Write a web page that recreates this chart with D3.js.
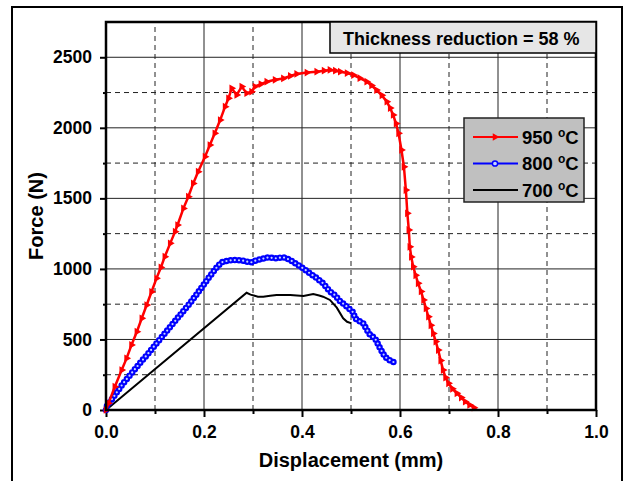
<!DOCTYPE html>
<html>
<head>
<meta charset="utf-8">
<script src="https://cdn.jsdelivr.net/npm/d3@7"></script>
<style>
  body { margin: 0; background: #fff; }
  svg { display: block; font-family: "Liberation Sans", Arial, sans-serif; }
</style>
</head>
<body>
<svg id="chart" width="625" height="481"></svg>
<script>
// Force-displacement curves (mm, N)
const red950 = [[0,0],[0.005,47],[0.018,165],[0.032,283],[0.042,366],[0.052,461],[0.063,555],[0.073,650],[0.083,744],[0.093,838],[0.103,933],[0.112,1010],[0.120,1087],[0.131,1181],[0.141,1264],[0.146,1311],[0.158,1429],[0.168,1512],[0.178,1606],[0.188,1689],[0.202,1795],[0.212,1878],[0.222,1961],[0.233,2055],[0.243,2150],[0.250,2209],[0.2565,2280],[0.2667,2233],[0.277,2292],[0.287,2245],[0.297,2256],[0.304,2292],[0.316,2310],[0.328,2327],[0.345,2340],[0.362,2350],[0.376,2368],[0.389,2382],[0.41,2392],[0.43,2398],[0.445,2405],[0.457,2410],[0.468,2405],[0.478,2398],[0.492,2388],[0.505,2374],[0.518,2352],[0.532,2327],[0.542,2300],[0.552,2268],[0.563,2230],[0.573,2185],[0.580,2140],[0.586,2091],[0.592,2030],[0.597,1961],[0.603,1843],[0.608,1724],[0.612,1559],[0.615,1394],[0.618,1276],[0.620,1157],[0.623,1085],[0.627,1016],[0.632,955],[0.637,898],[0.643,840],[0.648,780],[0.653,720],[0.658,661],[0.663,600],[0.668,543],[0.673,485],[0.678,425],[0.683,350],[0.688,283],[0.693,230],[0.699,189],[0.707,150],[0.716,118],[0.725,88],[0.733,59],[0.742,36],[0.751,16]];

const blue800 = [[0,0],[0.001,24],[0.018,105],[0.035,189],[0.052,260],[0.069,331],[0.086,400],[0.103,472],[0.120,543],[0.137,614],[0.154,685],[0.171,756],[0.185,820],[0.199,886],[0.209,935],[0.219,980],[0.228,1020],[0.236,1047],[0.248,1058],[0.260,1063],[0.270,1062],[0.280,1058],[0.290,1050],[0.297,1047],[0.308,1063],[0.320,1072],[0.331,1082],[0.340,1078],[0.348,1075],[0.355,1080],[0.362,1082],[0.370,1072],[0.376,1063],[0.384,1045],[0.392,1028],[0.404,1000],[0.416,969],[0.430,935],[0.443,898],[0.457,840],[0.467,815],[0.478,770],[0.488,744],[0.497,715],[0.505,690],[0.508,650],[0.516,632],[0.525,614],[0.532,570],[0.539,532],[0.549,508],[0.559,440],[0.569,378],[0.580,350],[0.590,335]];

const black700 = [[0,0],[0.287,831],[0.295,818],[0.31,803],[0.321,803],[0.335,810],[0.348,815],[0.376,815],[0.403,808],[0.423,822],[0.435,812],[0.443,803],[0.457,780],[0.471,725],[0.484,650],[0.492,625],[0.501,614]];

const xMajor = [0, 0.2, 0.4, 0.6, 0.8, 1.0];
const xMinor = [0.1, 0.3, 0.5, 0.7, 0.9];
const yMajor = [0, 500, 1000, 1500, 2000, 2500];
const yMinor = [250, 750, 1250, 1750, 2250];
const legendLabels = ["950", "800", "700"];
const noteText = "Thickness reduction = 58 %";

const svg = d3.select("#chart");
const x = d3.scaleLinear().domain([0, 1]).range([106, 596]);
const y = d3.scaleLinear().domain([0, 2750]).range([410, 22]);

// outer frame
svg.append("rect")
    .attr("x", 12).attr("y", 7)
    .attr("width", 610).attr("height", 490)
    .attr("fill", "#fff").attr("stroke", "#000").attr("stroke-width", 2);

// grid
const grid = svg.append("g");
grid.selectAll(".gx").data(xMajor).join("line")
    .attr("x1", d => x(d)).attr("x2", d => x(d))
    .attr("y1", y(0)).attr("y2", y(2750))
    .attr("stroke", "#222").attr("stroke-width", 1);
grid.selectAll(".gy").data(yMajor).join("line")
    .attr("y1", d => y(d)).attr("y2", d => y(d))
    .attr("x1", x(0)).attr("x2", x(1))
    .attr("stroke", "#222").attr("stroke-width", 1);
grid.selectAll(".gxm").data(xMinor).join("line")
    .attr("x1", d => x(d)).attr("x2", d => x(d))
    .attr("y1", y(0)).attr("y2", y(2750))
    .attr("stroke", "#222").attr("stroke-width", 1).attr("stroke-dasharray", "5,4");
grid.selectAll(".gym").data(yMinor).join("line")
    .attr("y1", d => y(d)).attr("y2", d => y(d))
    .attr("x1", x(0)).attr("x2", x(1))
    .attr("stroke", "#222").attr("stroke-width", 1).attr("stroke-dasharray", "5,4");

// axes
const fmtX = d3.format(".1f");
const xAxis = svg.append("g").attr("transform", `translate(0,${y(0)})`)
    .call(d3.axisBottom(x).tickValues(xMajor).tickFormat(fmtX).tickSize(7).tickPadding(9));
const xAxisMinor = svg.append("g").attr("transform", `translate(0,${y(0)})`)
    .call(d3.axisBottom(x).tickValues(xMinor).tickFormat("").tickSize(4));
const yAxis = svg.append("g").attr("transform", `translate(${x(0)},0)`)
    .call(d3.axisLeft(y).tickValues(yMajor).tickFormat(d3.format("d")).tickSize(6).tickPadding(8));
const yAxisMinor = svg.append("g").attr("transform", `translate(${x(0)},0)`)
    .call(d3.axisLeft(y).tickValues(yMinor).tickFormat("").tickSize(3));

[xAxis, xAxisMinor, yAxis, yAxisMinor].forEach(a => {
    a.select(".domain").remove();
    a.selectAll("line").attr("stroke", "#000").attr("stroke-width", 2);
    a.selectAll("text")
        .attr("fill", "#000")
        .style("font-size", "17.5px")
        .style("font-weight", "bold")
        .style("font-family", "'Liberation Sans', Arial, sans-serif");
});

// curves
const line = d3.line().x(d => x(d[0])).y(d => y(d[1]));

svg.append("path").datum(black700)
    .attr("d", line).attr("fill", "none")
    .attr("stroke", "#000").attr("stroke-width", 2);

// blue: line with chain of open circles
svg.append("path").datum(blue800)
    .attr("d", line).attr("fill", "none")
    .attr("stroke", "#0000ff").attr("stroke-width", 6.5)
    .attr("stroke-linecap", "round").attr("stroke-dasharray", "0,4.2");
svg.append("path").datum(blue800)
    .attr("d", line).attr("fill", "none")
    .attr("stroke", "#0000ff").attr("stroke-width", 2);
svg.append("path").datum(blue800)
    .attr("d", line).attr("fill", "none")
    .attr("stroke", "#c9d6ff").attr("stroke-width", 2.2)
    .attr("stroke-linecap", "round").attr("stroke-dasharray", "0,4.2");

svg.append("path").datum(red950)
    .attr("d", line).attr("fill", "none")
    .attr("stroke", "#ff0000").attr("stroke-width", 2.5);

const tri = d3.symbol().type(d3.symbolTriangle).size(26);
svg.append("g").selectAll("path").data(red950).join("path")
    .attr("d", tri)
    .attr("transform", d => `translate(${x(d[0])},${y(d[1])}) rotate(90)`)
    .attr("fill", "#ff0000");

// plot frame
svg.append("rect")
    .attr("x", x(0)).attr("y", y(2750))
    .attr("width", x(1) - x(0)).attr("height", y(0) - y(2750))
    .attr("fill", "none").attr("stroke", "#000").attr("stroke-width", 2.5);

// axis titles
svg.append("text")
    .attr("x", (x(0) + x(1)) / 2).attr("y", 467)
    .attr("text-anchor", "middle")
    .style("font-size", "20px").style("font-weight", "bold")
    .text("Displacement (mm)");
svg.append("text")
    .attr("transform", `translate(43,${(y(0) + y(2750)) / 2}) rotate(-90)`)
    .attr("text-anchor", "middle")
    .style("font-size", "20px").style("font-weight", "bold")
    .text("Force (N)");

// note box
svg.append("rect")
    .attr("x", 330).attr("y", 22).attr("width", 266).attr("height", 31)
    .attr("fill", "#e6e6e6").attr("stroke", "#000").attr("stroke-width", 1.5);
svg.append("text")
    .attr("x", 343).attr("y", 45)
    .style("font-size", "18px").style("font-weight", "bold")
    .text(noteText);

// legend
const legend = svg.append("g").attr("transform", "translate(464,118)");
legend.append("rect")
    .attr("width", 120).attr("height", 84)
    .attr("fill", "#c0c0c0").attr("stroke", "#222").attr("stroke-width", 1.5);
const legendColors = ["#ff0000", "#0000ff", "#000"];
legendLabels.forEach((lab, i) => {
    const row = legend.append("g").attr("transform", `translate(0,${19 + i * 26.5})`);
    row.append("line")
        .attr("x1", 9).attr("x2", 54)
        .attr("stroke", legendColors[i]).attr("stroke-width", 2);
    if (i === 0) {
        row.append("path").attr("d", tri)
            .attr("transform", "translate(31,0) rotate(90)")
            .attr("fill", "#ff0000");
    } else if (i === 1) {
        row.append("circle").attr("cx", 31).attr("r", 2.6)
            .attr("fill", "#c9d6ff").attr("stroke", "#0000ff").attr("stroke-width", 1.5);
    }
    const t = row.append("text")
        .attr("x", 58).attr("y", 6.5)
        .style("font-size", "18.5px").style("font-weight", "bold");
    t.append("tspan").text(lab + " ");
    t.append("tspan").attr("dy", -7).style("font-size", "12px").text("o");
    t.append("tspan").attr("dy", 7).text("C");
});
</script>
</body>
</html>
